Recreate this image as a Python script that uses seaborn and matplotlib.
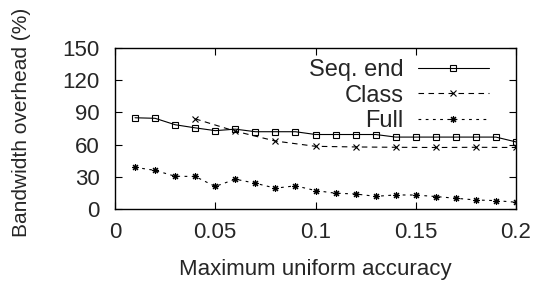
import numpy as np
import pandas as pd
import matplotlib
matplotlib.use("Agg")
import matplotlib.pyplot as plt
import seaborn as sns

# values
seq_x = [0.01, 0.02, 0.03, 0.04, 0.05, 0.06, 0.07, 0.08, 0.09, 0.10,
         0.11, 0.12, 0.13, 0.14, 0.15, 0.16, 0.17, 0.18, 0.19, 0.20]
seq_end = [85, 84.5, 78.5, 75.6, 73, 74.4, 72, 72, 72, 69.4,
           69.4, 69.4, 69.4, 67, 67, 67, 67, 67, 67, 62.5]

class_x = [0.04, 0.06, 0.08, 0.10, 0.12, 0.14, 0.16, 0.18, 0.20]
class_vals = [84, 72.5, 63.3, 58.4, 57.8, 57.5, 57.3, 57.5, 57.3]

full_x = seq_x
full_vals = [38.8, 36, 30.5, 30.3, 21, 27.8, 24, 19.4, 21.6, 17.2,
             14.7, 14, 11.8, 13.1, 13, 11.6, 10, 8.4, 7.8, 6.3]

x_ticks = [0, 0.05, 0.1, 0.15, 0.2]
x_ticklabels = ["0", "0.05", "0.1", "0.15", "0.2"]
y_ticks = [0, 30, 60, 90, 120, 150]

sns.set_style("ticks")
plt.rcParams["font.family"] = ["Liberation Sans", "DejaVu Sans"]
plt.rcParams["font.size"] = 16

fig = plt.figure(figsize=(5.37, 2.88), dpi=100)
ax = fig.add_axes([115 / 537, 1 - 209 / 288, 401 / 537, 161 / 288])

lw = 0.8
seq_df = pd.DataFrame({"x": seq_x, "y": seq_end})
class_df = pd.DataFrame({"x": class_x, "y": class_vals})
full_df = pd.DataFrame({"x": full_x, "y": full_vals})

common = dict(ax=ax, color="black", lw=lw, markersize=5,
              markeredgecolor="black", markeredgewidth=0.8)
sns.lineplot(data=seq_df, x="x", y="y", marker="s",
             markerfacecolor="none", label="Seq. end", **common)
sns.lineplot(data=class_df, x="x", y="y", marker="x",
             label="Class", **common)
sns.lineplot(data=full_df, x="x", y="y", marker=(8, 2, 0),
             label="Full", **common)

lines = ax.get_lines()
lines[1].set_dashes([5, 4])
lines[2].set_dashes([2.5, 4])

ax.set_xlim(0, 0.2)
ax.set_ylim(0, 150)
ax.set_xticks(x_ticks)
ax.set_xticklabels(x_ticklabels)
ax.set_yticks(y_ticks)
ax.tick_params(direction="in", length=5, width=0.8, top=True, right=True,
               color="black", labelsize=16)
ax.tick_params(axis="x", pad=9)
ax.tick_params(axis="y", pad=11)
ax.minorticks_off()
for s in ax.spines.values():
    s.set_linewidth(1.0)
    s.set_color("black")

ax.set_xlabel("Maximum uniform accuracy", fontsize=16)
ax.xaxis.set_label_coords(0.5, -0.31)
ax.set_ylabel("Bandwidth overhead (%)", fontsize=15)
ax.yaxis.set_label_coords(-0.21, 0.54)

leg = ax.legend(loc="upper right", bbox_to_anchor=(0.955, 0.99),
                frameon=False, markerfirst=False, handlelength=3.0,
                handletextpad=0.6, labelspacing=0.15, borderaxespad=0,
                fontsize=17)

fig.savefig("out.png", dpi=100)
